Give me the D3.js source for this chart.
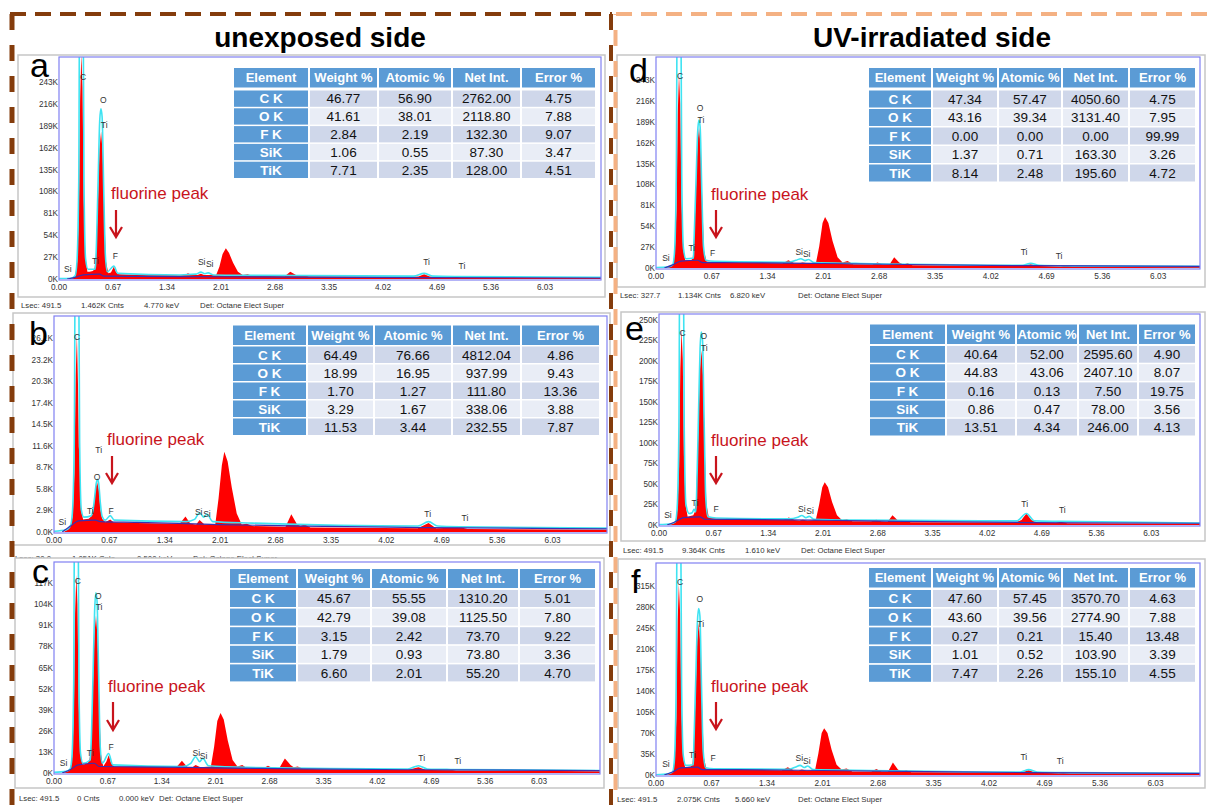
<!DOCTYPE html>
<html>
<head>
<meta charset="utf-8">
<script src="https://cdn.jsdelivr.net/npm/d3@7"></script>
<style>
  body { margin: 0; background: #fff; }
  svg { display: block; font-family: "Liberation Sans", Arial, sans-serif; }
</style>
</head>
<body>
<div id="chart"></div>
<script>
// ---- shared labels ----
const xTickLabels = ["0.00","0.67","1.34","2.01","2.68","3.35","4.02","4.69","5.36","6.03"];
const tableHeaders = ["Element","Weight %","Atomic %","Net Int.","Error %"];
const elements = ["C K","O K","F K","SiK","TiK"];

// ---- quantification tables (Weight %, Atomic %, Net Int., Error %) ----
const tableA = [[46.77,56.90,2762.00,4.75],[41.61,38.01,2118.80,7.88],[2.84,2.19,132.30,9.07],[1.06,0.55,87.30,3.47],[7.71,2.35,128.00,4.51]];
const tableB = [[64.49,76.66,4812.04,4.86],[18.99,16.95,937.99,9.43],[1.70,1.27,111.80,13.36],[3.29,1.67,338.06,3.88],[11.53,3.44,232.55,7.87]];
const tableC = [[45.67,55.55,1310.20,5.01],[42.79,39.08,1125.50,7.80],[3.15,2.42,73.70,9.22],[1.79,0.93,73.80,3.36],[6.60,2.01,55.20,4.70]];
const tableD = [[47.34,57.47,4050.60,4.75],[43.16,39.34,3131.40,7.95],[0.00,0.00,0.00,99.99],[1.37,0.71,163.30,3.26],[8.14,2.48,195.60,4.72]];
const tableE = [[40.64,52.00,2595.60,4.90],[44.83,43.06,2407.10,8.07],[0.16,0.13,7.50,19.75],[0.86,0.47,78.00,3.56],[13.51,4.34,246.00,4.13]];
const tableF = [[47.60,57.45,3570.70,4.63],[43.60,39.56,2774.90,7.88],[0.27,0.21,15.40,13.48],[1.01,0.52,103.90,3.39],[7.47,2.26,155.10,4.55]];

// ---- y tick labels (counts) ----
const yTicksA = ["0K","27K","54K","81K","108K","135K","162K","189K","216K","243K"];
const yTicksB = ["0.0K","2.9K","5.8K","8.7K","11.6K","14.5K","17.4K","20.3K","23.2K","26.1K"];
const yTicksC = ["0K","13K","26K","39K","52K","65K","78K","91K","104K","117K"];
const yTicksD = ["0K","27K","54K","81K","108K","135K","162K","189K","216K","243K"];
const yTicksE = ["0K","25K","50K","75K","100K","125K","150K","175K","200K","225K","250K"];
const yTicksF = ["0K","35K","70K","105K","140K","175K","210K","245K","280K","315K"];

// ---- status lines ----
const statusA = ["Lsec: 491.5","1.462K Cnts","4.770 keV","Det: Octane Elect Super"];
const statusB = ["Lsec: 30.0","1.051K Cnts","0.500 keV","Det: Octane Elect Super"];
const statusC = ["Lsec: 491.5","0 Cnts","0.000 keV","Det: Octane Elect Super"];
const statusD = ["Lsec: 327.7","1.134K Cnts","6.820 keV","Det: Octane Elect Super"];
const statusE = ["Lsec: 491.5","9.364K Cnts","1.610 keV","Det: Octane Elect Super"];
const statusF = ["Lsec: 491.5","2.075K Cnts","5.660 keV","Det: Octane Elect Super"];

// ---- spectra: [keV, counts in K] ----
const redA = [[0,0],[0.12,0],[0.16,1.5],[0.2,3],[0.227,22],[0.247,83],[0.262,222],[0.277,278],[0.292,236],[0.307,97],[0.327,28],[0.352,9],[0.38,9],[0.42,10],[0.44,12],[0.457,27],[0.482,91],[0.502,160],[0.522,182],[0.542,155],[0.562,82],[0.582,22],[0.612,7],[0.645,8],[0.68,15],[0.71,8],[0.75,6],[1.0,5],[1.5,4.5],[1.56,5],[1.6,7],[1.65,5],[1.72,5],[1.76,6.5],[1.8,5],[1.95,5],[1.99,15],[2.03,31],[2.07,38],[2.11,32],[2.16,20],[2.22,9],[2.28,5],[2.34,6],[2.4,4],[2.8,3.5],[2.87,9],[2.94,5],[2.98,4],[3.03,5],[3.1,3],[4.3,2.5],[4.46,3],[4.53,6],[4.6,3],[4.8,2],[4.93,2.5],[5.0,2],[7,1.5]];
const cyanA = [[0,0.5],[0.15,1],[0.2,4],[0.222,20],[0.245,120],[0.258,400],[0.296,400],[0.31,120],[0.33,25],[0.36,12],[0.45,12],[0.46,30],[0.485,120],[0.505,195],[0.52,210],[0.535,200],[0.555,110],[0.575,30],[0.6,9],[0.68,16],[0.73,7],[1.5,5],[1.7,6],[1.76,8.5],[1.81,6.5],[1.85,7.5],[1.92,5],[2.4,4.5],[4.4,3.5],[4.53,7],[4.64,3.5],[4.93,3],[7,2]];
const blueA = [[0.1,0],[0.2,2],[0.3,5],[0.5,6],[0.56,3.5],[1.0,3.2],[2.0,2.8],[3.0,2.3],[4.5,1.8],[7,1.2]];

const redB = [[0,0],[0.12,0],[0.16,0.3],[0.2,0.8],[0.227,2.2],[0.247,8],[0.262,21],[0.277,26.5],[0.29,20],[0.3,11.5],[0.31,10],[0.327,3],[0.352,1.7],[0.42,1.8],[0.45,2.1],[0.47,2.6],[0.482,3.4],[0.502,5.9],[0.522,6.7],[0.542,5.7],[0.562,3],[0.582,1.8],[0.62,1.3],[0.68,1.7],[0.72,1.3],[1.0,1.2],[1.52,1.1],[1.59,2.1],[1.65,1.1],[1.72,1.0],[1.76,1.6],[1.82,1.0],[1.95,1.0],[1.99,4.5],[2.03,9],[2.06,10.8],[2.1,9.5],[2.15,6],[2.21,2.5],[2.27,1.0],[2.33,1.1],[2.4,0.8],[2.8,0.7],[2.87,2.4],[2.94,1.0],[2.98,0.8],[3.03,1.0],[3.1,0.6],[4.4,0.5],[4.53,1.2],[4.62,0.5],[4.93,0.6],[5.0,0.4],[7,0.3]];
const cyanB = [[0,0.1],[0.15,0.3],[0.2,0.9],[0.222,2.5],[0.245,12],[0.258,40],[0.296,40],[0.31,12],[0.33,3],[0.36,2],[0.45,2.2],[0.47,2.8],[0.49,4.5],[0.51,6.5],[0.525,7.1],[0.54,6.6],[0.56,4],[0.58,2.2],[0.62,1.6],[0.68,2.2],[0.73,1.6],[1.6,1.4],[1.7,1.7],[1.76,2.6],[1.81,2.0],[1.85,2.4],[1.92,1.4],[2.4,1.2],[4.4,0.8],[4.53,1.4],[4.64,0.8],[4.93,0.7],[7,0.5]];
const blueB = [[0.1,0],[0.2,0.8],[0.3,1.5],[0.5,1.6],[0.56,1.4],[1.0,1.3],[2.0,1.0],[3.0,0.8],[4.5,0.6],[7,0.4]];

const redC = [[0,0],[0.12,0],[0.16,1],[0.2,2],[0.227,10],[0.247,37],[0.262,98],[0.277,122],[0.292,104],[0.307,43],[0.327,13],[0.352,5],[0.42,6],[0.44,8],[0.457,14],[0.482,48],[0.502,85],[0.522,97],[0.542,83],[0.562,44],[0.582,12],[0.612,4],[0.65,7],[0.68,11],[0.71,6],[0.75,4],[1.0,4],[1.52,3.5],[1.59,7.5],[1.66,3.5],[1.72,3.5],[1.76,5],[1.82,3.5],[1.95,4],[1.99,16],[2.03,32],[2.07,37],[2.11,33],[2.16,20],[2.22,8],[2.28,4],[2.34,5],[2.4,3],[2.6,3],[2.66,4.5],[2.72,3],[2.8,3],[2.87,9],[2.94,5],[2.98,3.5],[3.03,4],[3.1,2.5],[4.4,2],[4.53,3.5],[4.62,2],[4.93,2],[5.0,1.5],[7,1]];
const cyanC = [[0,0.5],[0.15,1],[0.2,2.5],[0.222,9],[0.245,55],[0.258,200],[0.296,200],[0.31,55],[0.33,12],[0.36,6],[0.45,8],[0.46,16],[0.485,60],[0.505,100],[0.52,111],[0.535,106],[0.555,60],[0.575,16],[0.6,6],[0.68,12],[0.73,5],[1.6,4],[1.7,6],[1.76,10],[1.81,7],[1.85,9],[1.92,4.5],[2.4,3.5],[4.4,2.5],[4.53,4.5],[4.64,2.5],[4.93,2.2],[7,1.5]];
const blueC = [[0.1,0],[0.2,2],[0.3,5],[0.5,6],[0.56,4],[1.0,3.8],[2.0,3.2],[3.0,2.6],[4.5,2],[7,1.4]];

const redD = [[0,0],[0.12,0],[0.16,1.5],[0.2,3],[0.226,20],[0.246,75],[0.261,200],[0.276,250],[0.291,212],[0.306,88],[0.326,25],[0.351,10],[0.42,10],[0.44,12],[0.452,27],[0.477,91],[0.497,160],[0.517,182],[0.537,155],[0.557,82],[0.577,22],[0.607,8.5],[0.7,7.5],[1.0,7],[1.52,6],[1.59,10],[1.66,6],[1.72,6],[1.76,7],[1.82,6],[1.92,6],[1.96,28],[2.0,58],[2.03,66],[2.07,58],[2.12,35],[2.18,14],[2.24,7],[2.3,9],[2.37,5],[2.6,4.5],[2.66,7],[2.72,4.5],[2.8,4],[2.86,14],[2.92,7],[2.97,4.5],[3.02,6],[3.08,3.5],[4.4,3],[4.5,5],[4.58,3],[4.86,2],[4.92,2.8],[5.0,2],[7,1.5]];
const cyanD = [[0,0.5],[0.15,1.5],[0.2,4],[0.222,20],[0.244,120],[0.257,400],[0.295,400],[0.309,120],[0.33,25],[0.36,12],[0.45,13],[0.455,30],[0.48,110],[0.5,175],[0.515,191],[0.53,182],[0.55,100],[0.57,28],[0.6,10],[0.7,8.5],[1.6,7.5],[1.68,10],[1.74,12],[1.79,9.5],[1.83,11],[1.9,7],[2.4,6],[4.4,3.5],[4.5,6],[4.6,3.5],[4.92,2.8],[7,2]];
const blueD = [[0.1,0],[0.2,4],[0.3,9],[0.5,10],[0.56,7],[1.0,6.8],[2.0,5.8],[3.0,4.5],[4.5,3],[7,2]];

const redE = [[0,0],[0.12,0],[0.16,1.5],[0.2,3],[0.226,19],[0.246,71],[0.261,190],[0.276,238],[0.291,202],[0.306,83],[0.326,24],[0.351,10],[0.42,12],[0.44,16],[0.455,32],[0.48,107],[0.5,187],[0.52,213],[0.54,181],[0.56,96],[0.58,26],[0.61,9],[0.7,7.5],[1.0,7],[1.52,6],[1.59,9],[1.66,6],[1.72,5.5],[1.76,6.5],[1.82,5.5],[1.92,6],[1.96,24],[2.0,46],[2.03,52],[2.07,46],[2.12,28],[2.18,12],[2.24,6],[2.3,7],[2.37,4.5],[2.6,4.5],[2.66,6.5],[2.72,4.5],[2.8,4],[2.86,12],[2.92,6],[2.97,4],[3.02,5.5],[3.08,3.5],[4.36,3],[4.44,6],[4.5,14],[4.56,6],[4.64,3],[4.86,2.5],[4.92,4],[5.0,2],[7,1.5]];
const cyanE = [[0,0.5],[0.15,1.5],[0.2,4],[0.222,20],[0.244,120],[0.257,400],[0.295,400],[0.309,120],[0.33,25],[0.37,14],[0.405,15],[0.43,19],[0.45,16],[0.46,35],[0.485,140],[0.503,215],[0.518,235],[0.533,225],[0.553,125],[0.573,32],[0.6,10],[0.7,8.5],[1.6,7.5],[1.7,9.5],[1.75,11.5],[1.8,9],[1.84,10.5],[1.9,7],[2.4,6],[4.38,5],[4.5,14],[4.6,5],[4.92,4.5],[7,2]];
const blueE = [[0.1,0],[0.2,4],[0.3,9],[0.5,10],[0.56,7],[1.0,6.8],[2.0,5.8],[3.0,4.5],[4.5,3],[7,2]];

const redF = [[0,0],[0.12,0],[0.16,2],[0.2,4],[0.226,25],[0.246,95],[0.261,255],[0.276,318],[0.291,270],[0.306,111],[0.326,32],[0.351,13],[0.42,14],[0.44,17],[0.452,38],[0.477,127],[0.497,223],[0.517,253],[0.537,215],[0.557,114],[0.577,30],[0.607,11],[0.7,9.5],[1.0,9],[1.52,8],[1.59,13],[1.66,8],[1.72,7.5],[1.76,9],[1.82,7.5],[1.92,8],[1.96,36],[2.0,70],[2.03,78],[2.07,70],[2.12,42],[2.18,17],[2.24,9],[2.3,11],[2.37,6],[2.6,6],[2.66,10],[2.72,6],[2.8,5.5],[2.86,21],[2.92,9],[2.97,5.5],[3.02,8],[3.08,4.5],[4.4,4],[4.5,8],[4.58,4],[4.86,3],[4.92,3.5],[5.0,2.5],[7,2]];
const cyanF = [[0,0.5],[0.15,2],[0.2,5],[0.222,25],[0.244,150],[0.257,500],[0.295,500],[0.309,150],[0.33,32],[0.36,16],[0.45,17],[0.455,40],[0.48,160],[0.5,255],[0.515,277],[0.53,265],[0.55,145],[0.57,40],[0.6,12],[0.7,10.5],[1.6,9.5],[1.68,13],[1.74,16],[1.79,12.5],[1.83,15],[1.9,9],[2.4,8],[4.4,5],[4.5,9],[4.6,5],[4.92,4],[7,2.5]];
const blueF = [[0.1,0],[0.2,5],[0.3,12],[0.5,13],[0.56,9],[1.0,8.8],[2.0,7.5],[3.0,6],[4.5,4],[7,2.5]];

// ---- peak labels: [text, keV, counts K] ----
const peaksA = [["C",0.30,246],["O",0.55,217],["Ti",0.56,186],["Si",0.11,8.6],["Ti",0.45,18.5],["F",0.70,24.7],["Si",1.77,17],["Si",1.87,14.8],["Ti",4.56,17],["Ti",5.0,12]];
const peaksB = [["C",0.28,25.9],["Ti",0.54,10.7],["O",0.52,7.0],["Si",0.10,0.9],["Ti",0.44,2.4],["F",0.69,2.4],["Si",1.75,2.3],["Si",1.85,2.0],["Ti",4.52,2.0],["Ti",4.97,1.5]];
const peaksC = [["C",0.295,116.6],["O",0.55,107],["Ti",0.56,100.6],["Si",0.12,4.5],["Ti",0.45,10.5],["F",0.71,14],["Si",1.77,10.5],["Si",1.86,8.6],["Ti",4.57,7.4],["Ti",5.02,5.5]];
const peaksD = [["C",0.29,244],["O",0.53,203],["Ti",0.54,187],["Si",0.12,9],["Ti",0.43,22],["F",0.68,15.5],["Si",1.72,17],["Si",1.81,14],["Ti",4.42,17],["Ti",4.84,11.6]];
const peaksE = [["C",0.29,230],["O",0.55,227],["Ti",0.555,212],["Si",0.11,8.5],["Ti",0.44,23.5],["F",0.70,16],["Si",1.75,16],["Si",1.85,13.4],["Ti",4.48,22],["Ti",4.94,14.6]];
const peaksF = [["C",0.29,317],["O",0.53,288],["Ti",0.54,247],["Si",0.12,13],["Ti",0.44,28],["F",0.69,23],["Si",1.73,23],["Si",1.82,19],["Ti",4.44,25],["Ti",4.88,18]];

// ---- panel layout ----
const panels = [
  {id:"a", box:[18,55,605,297], plot:{l:59,t:57,r:601,b:279}, step:54, yMax:274,
   ticks:yTicksA, table:tableA, red:redA, cyan:cyanA, blue:blueA, peaks:peaksA, status:statusA,
   tl:{cols:[233,309,378,452,521,596], head:68, headH:19.5, row:90.5, step:17.8, rowH:16.3},
   st:{y:308, xs:[21,81,144,200]}, letter:[30,77], note:{x:111,y:199,ax:116,a0:210,a1:237}},
  {id:"b", box:[13,313,610,545], plot:{l:54,t:316,r:607,b:532}, step:55.4, yMax:29.1,
   ticks:yTicksB, table:tableB, red:redB, cyan:cyanB, blue:blueB, peaks:peaksB, status:statusB,
   tl:{cols:[232,307,374,452,521,600], head:325.5, headH:19.5, row:346.5, step:18, rowH:16.5},
   st:{y:561, xs:[15,72,137,193]}, letter:[29,345], note:{x:107,y:445,ax:112,a0:456,a1:483}},
  {id:"c", box:[15,558,604,788], plot:{l:54,t:562,r:600,b:773}, step:53.9, yMax:130,
   ticks:yTicksC, table:tableC, red:redC, cyan:cyanC, blue:blueC, peaks:peaksC, status:statusC,
   tl:{cols:[229,297,371,447,519,596], head:569, headH:19, row:590, step:18.6, rowH:17},
   st:{y:801, xs:[19,77,119,159]}, letter:[32,583], note:{x:108,y:692,ax:113,a0:702,a1:730}},
  {id:"d", box:[617,55,1205,287], plot:{l:656,t:57,r:1200,b:268}, step:55.8, yMax:272.6,
   ticks:yTicksD, table:tableD, red:redD, cyan:cyanD, blue:blueD, peaks:peaksD, status:statusD,
   tl:{cols:[868,932,998,1062,1129,1196], head:68, headH:19.5, row:90.5, step:18.5, rowH:17},
   st:{y:298, xs:[620,678,730,798]}, letter:[629,82], note:{x:711,y:200,ax:716,a0:210,a1:237}},
  {id:"e", box:[621,312,1205,541], plot:{l:659,t:314,r:1200,b:525}, step:54.7, yMax:257,
   ticks:yTicksE, table:tableE, red:redE, cyan:cyanE, blue:blueE, peaks:peaksE, status:statusE,
   tl:{cols:[869,946,1016,1078,1138,1196], head:324.5, headH:19.5, row:346, step:18.2, rowH:16.7},
   st:{y:553, xs:[623,682,745,801]}, letter:[625,340], note:{x:711,y:446,ax:716,a0:456,a1:483}},
  {id:"f", box:[618,559,1205,788], plot:{l:656,t:563,r:1200,b:775}, step:55.5, yMax:353,
   ticks:yTicksF, table:tableF, red:redF, cyan:cyanF, blue:blueF, peaks:peaksF, status:statusF,
   tl:{cols:[868,932,998,1062,1129,1196], head:568, headH:19.5, row:590, step:18.7, rowH:17},
   st:{y:802, xs:[617,677,735,798]}, letter:[631,593], note:{x:711,y:692,ax:716,a0:702,a1:729}}
];

const svg = d3.select("#chart").append("svg")
    .attr("width", 1208)
    .attr("height", 805);

svg.append("rect").attr("width", 1208).attr("height", 805).attr("fill", "#fff");

const brown = "#843c0c", orange = "#f4b183";
const red = "#ff0000", noteRed = "#c8141c", headBlue = "#5b9bd5";
const fmt = d3.format(".2f");

panels.forEach(p => {
  const g = svg.append("g");
  const [bx0, by0, bx1, by1] = p.box;

  // outer grey panel box (white so it hides what lies under it)
  g.append("rect")
    .attr("x", bx0).attr("y", by0)
    .attr("width", bx1 - bx0).attr("height", by1 - by0)
    .attr("fill", "#fff").attr("stroke", "#c6c6c6").attr("stroke-width", 1.5);

  const xMax = (p.plot.r - p.plot.l) / p.step * 0.67;
  const x = d3.scaleLinear().domain([0, xMax]).range([p.plot.l, p.plot.r]);
  const y = d3.scaleLinear().domain([0, p.yMax]).range([p.plot.b, p.plot.t]);

  const clipId = "clip-" + p.id;
  svg.append("clipPath").attr("id", clipId)
    .append("rect")
      .attr("x", p.plot.l).attr("y", p.plot.t)
      .attr("width", p.plot.r - p.plot.l).attr("height", p.plot.b - p.plot.t);

  const spec = g.append("g").attr("clip-path", `url(#${clipId})`);

  // measured spectrum
  spec.append("path")
    .datum(p.red)
    .attr("fill", red)
    .attr("d", d3.area().x(d => x(d[0])).y0(y(0)).y1(d => y(d[1])));

  // fitted spectrum
  spec.append("path")
    .datum(p.cyan)
    .attr("fill", "none")
    .attr("stroke", "#3fe3f2")
    .attr("stroke-width", 1.6)
    .attr("d", d3.line().curve(d3.curveMonotoneX).x(d => x(d[0])).y(d => y(d[1])));

  // background
  spec.append("path")
    .datum(p.blue)
    .attr("fill", "none")
    .attr("stroke", "#3a2fb0")
    .attr("stroke-width", 1.2)
    .attr("d", d3.line().curve(d3.curveMonotoneX).x(d => x(d[0])).y(d => y(d[1])));

  // plot frame
  g.append("rect")
    .attr("x", p.plot.l).attr("y", p.plot.t)
    .attr("width", p.plot.r - p.plot.l).attr("height", p.plot.b - p.plot.t + 1)
    .attr("fill", "none").attr("stroke", "#8080f2").attr("stroke-width", 1.2);

  // x tick labels
  g.selectAll(".xt")
    .data(xTickLabels)
    .enter().append("text")
      .attr("x", d => x(+d))
      .attr("y", p.plot.b + 11)
      .attr("text-anchor", "middle")
      .attr("font-size", 8.3)
      .attr("fill", "#333")
      .text(d => d);

  // y tick labels
  g.selectAll(".yt")
    .data(p.ticks)
    .enter().append("text")
      .attr("x", p.plot.l - 1)
      .attr("y", d => y(parseFloat(d)) + 3)
      .attr("text-anchor", "end")
      .attr("font-size", 8.2)
      .attr("fill", "#333")
      .text(d => d);

  // peak labels
  g.selectAll(".pk")
    .data(p.peaks)
    .enter().append("text")
      .attr("x", d => x(d[1]))
      .attr("y", d => y(d[2]))
      .attr("text-anchor", "middle")
      .attr("font-size", 8.5)
      .attr("fill", "#333")
      .text(d => d[0]);

  // quantification table
  const tl = p.tl;
  const cellW = i => tl.cols[i + 1] - tl.cols[i] - 2;
  tableHeaders.forEach((h, i) => {
    g.append("rect")
      .attr("x", tl.cols[i] + 1).attr("y", tl.head)
      .attr("width", cellW(i)).attr("height", tl.headH)
      .attr("fill", headBlue);
    g.append("text")
      .attr("x", (tl.cols[i] + tl.cols[i + 1]) / 2)
      .attr("y", tl.head + tl.headH / 2 + 4.6)
      .attr("text-anchor", "middle")
      .attr("font-size", 13)
      .attr("font-weight", "bold")
      .attr("fill", "#fff")
      .text(h);
  });
  p.table.forEach((row, r) => {
    const top = tl.row + r * tl.step;
    const cells = [elements[r]].concat(row.map(fmt));
    cells.forEach((v, i) => {
      g.append("rect")
        .attr("x", tl.cols[i] + 1).attr("y", top)
        .attr("width", cellW(i)).attr("height", tl.rowH)
        .attr("fill", i === 0 ? headBlue : (r % 2 === 0 ? "#cfd7ea" : "#e9edf6"));
      g.append("text")
        .attr("x", (tl.cols[i] + tl.cols[i + 1]) / 2)
        .attr("y", top + tl.rowH / 2 + 4.8)
        .attr("text-anchor", "middle")
        .attr("font-size", 13.5)
        .attr("font-weight", i === 0 ? "bold" : "normal")
        .attr("fill", i === 0 ? "#fff" : "#111")
        .text(v);
    });
  });

  // panel letter
  g.append("text")
    .attr("x", p.letter[0]).attr("y", p.letter[1])
    .attr("font-size", 34)
    .attr("fill", "#000")
    .text(p.id);

  // fluorine annotation
  const n = p.note;
  g.append("text")
    .attr("x", n.x).attr("y", n.y)
    .attr("font-size", 17)
    .attr("fill", noteRed)
    .text("fluorine peak");
  g.append("path")
    .attr("d", `M${n.ax},${n.a0}V${n.a1}M${n.ax - 6},${n.a1 - 10}L${n.ax},${n.a1}L${n.ax + 6},${n.a1 - 10}`)
    .attr("fill", "none")
    .attr("stroke", noteRed)
    .attr("stroke-width", 2.2);

  // status line under the panel
  p.status.forEach((s, i) => {
    g.append("text")
      .attr("x", p.st.xs[i]).attr("y", p.st.y)
      .attr("font-size", 7.8)
      .attr("fill", "#333")
      .text(s);
  });
});

// ---- dashed group frames ----
svg.append("line")
    .attr("x1", 10).attr("y1", 14).attr("x2", 612).attr("y2", 14)
    .attr("stroke", brown).attr("stroke-width", 4).attr("stroke-dasharray", "16,9");
svg.append("line")
    .attr("x1", 12).attr("y1", 14).attr("x2", 12).attr("y2", 805)
    .attr("stroke", brown).attr("stroke-width", 5).attr("stroke-dasharray", "16,15");
svg.append("line")
    .attr("x1", 611).attr("y1", 14).attr("x2", 611).attr("y2", 805)
    .attr("stroke", brown).attr("stroke-width", 4).attr("stroke-dasharray", "16,15");
svg.append("line")
    .attr("x1", 616).attr("y1", 14).attr("x2", 1208).attr("y2", 14)
    .attr("stroke", orange).attr("stroke-width", 4).attr("stroke-dasharray", "16,9");
svg.append("line")
    .attr("x1", 615.5).attr("y1", 14).attr("x2", 615.5).attr("y2", 805)
    .attr("stroke", orange).attr("stroke-width", 4).attr("stroke-dasharray", "16,15")
    .attr("stroke-dashoffset", 15);

// ---- group titles ----
svg.append("text")
    .attr("x", 320).attr("y", 47)
    .attr("text-anchor", "middle")
    .attr("font-size", 28).attr("font-weight", "bold")
    .text("unexposed side");
svg.append("text")
    .attr("x", 932).attr("y", 47)
    .attr("text-anchor", "middle")
    .attr("font-size", 28).attr("font-weight", "bold")
    .text("UV-irradiated side");
</script>
</body>
</html>
